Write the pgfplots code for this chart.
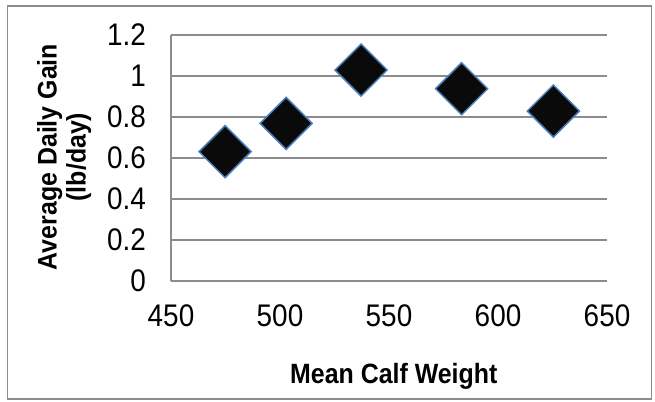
\documentclass[border=0pt]{standalone}
\usepackage{fontspec}
\setmainfont{Liberation Sans}
\usepackage{pgfplots}
\pgfplotsset{compat=1.18}
\definecolor{gridgray}{RGB}{140,140,140}
\definecolor{markblue}{RGB}{74,126,187}
\definecolor{markfill}{RGB}{10,10,10}
\newcommand{\vs}[1]{\scalebox{1}[1.12]{#1}}
\begin{document}
\begin{tikzpicture}[x=1bp,y=1bp]
\useasboundingbox (0,0) rectangle (655,401);
\draw[gridgray, line width=1.5bp] (7.5,2) rectangle (651.5,395);
\begin{axis}[
  at={(171bp,120bp)}, anchor=south west,
  scale only axis, width=436bp, height=246bp,
  xmin=450, xmax=650, ymin=0, ymax=1.2,
  xtick={450,500,550,600,650},
  xticklabels={\vs{450},\vs{500},\vs{550},\vs{600},\vs{650}},
  ytick={0,0.2,0.4,0.6,0.8,1,1.2},
  yticklabels={\vs{0},\vs{0.2},\vs{0.4},\vs{0.6},\vs{0.8},\vs{1},\vs{1.2}},
  axis lines*=left,
  axis line style={gridgray, line width=1.5bp},
  ymajorgrids,
  grid style={gridgray, line width=1.5bp},
  major tick length=0pt,
  tick label style={font=\fontsize{28}{32}\selectfont, inner sep=0pt},
  yticklabel style={anchor=east, xshift=-25bp},
  xticklabel style={anchor=north, yshift=-23bp},
  xlabel={\vs{Mean Calf Weight}},
  ylabel={\scalebox{1}[1.08]{Average Daily Gain}\\\scalebox{1}[1.08]{(lb/day)}},
  label style={font=\fontsize{25}{29}\selectfont\bfseries, align=center},
  xlabel style={at={(axis description cs:0.511,-0.415)}, anchor=base},
  ylabel style={at={(axis description cs:-0.245,0.504)}, anchor=center},
  clip=false,
]
\addplot[only marks, mark=square*, mark size=18.4bp,
  mark options={rotate=45, fill=markfill, draw=markblue, line width=1.5bp}]
  coordinates {(474.8,0.631) (502.8,0.769) (537.2,1.029) (583.3,0.938) (625.4,0.829)};
\end{axis}
\end{tikzpicture}
\end{document}
